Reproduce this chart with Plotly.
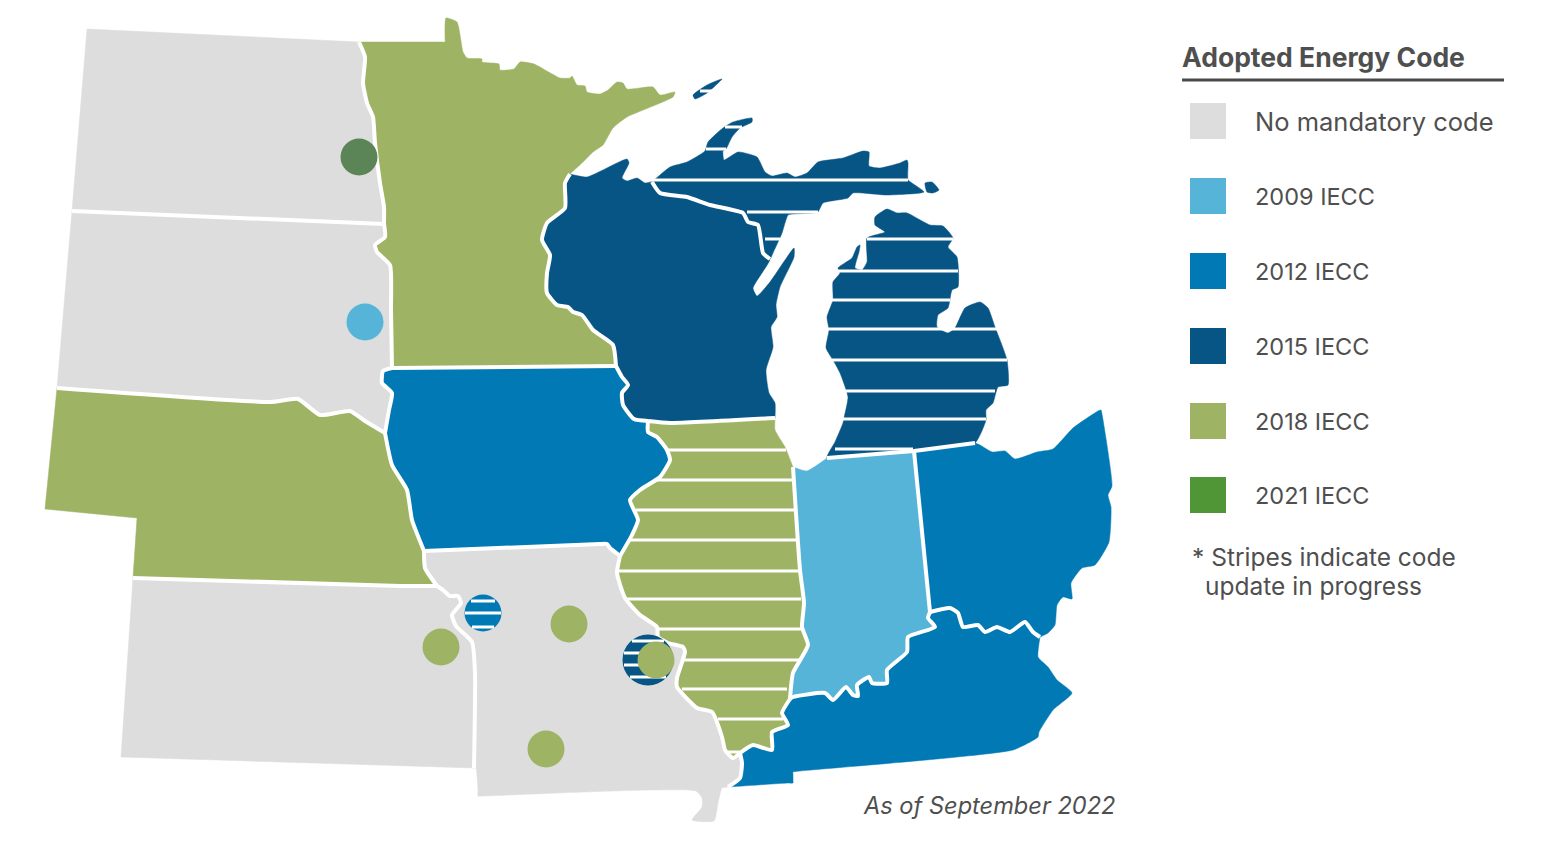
import plotly.graph_objects as go

# shared state borders (pixel coordinates of the map image)
nd_sd = [(72,211),(384,224)]
nd_mn = [(359,42),(365,57),(363,83),(367,103),(373,117),(375,143),(380,183),(384,207),(384,224)]
sd_mn = [(384,224),(385,237),(375,245),(377,252),(390,265),(391,310),(392,368)]
mn_ia = [(392,368),(616,366)]
sd_ia = [(392,368),(383,371),(382,383),(392,393),(389,410),(385,433)]
sd_ne = [(57,388),(270,402),(298,399),(320,415),(350,411),(365,421),(385,433)]
ne_ia = [(385,433),(392,465),(407,490),(412,520),(424,551)]
ne_mo = [(424,551),(425,568),(437,586)]
ne_ks = [(133,578),(400,586),(437,586)]
ks_mo = [(437,586),(443,590),(450,596),(458,596),(461,603),(452,615),(456,626),(472,642),(475,673),(474,768)]
mn_wi = [(570,174),(565,183),(565,208),(547,223),(542,240),(550,255),(547,273),(547,293),(557,305),(568,307),(573,312),(582,315),(593,330),(613,345),(616,366)]
ia_wi = [(616,366),(622,377),(628,385),(622,393),(623,405),(634,419),(648,421)]
ia_il = [(648,421),(648,432),(657,437),(667,450),(670,460),(660,477),(640,490),(630,500),(638,520),(632,535),(620,556)]
ia_mo = [(424,551),(600,544),(607,544),(610,548),(620,556)]
mo_il = [(620,556),(617,573),(625,598),(640,615),(657,627),(658,637),(668,643),(683,647),(685,652),(677,678),(677,687),(697,708),(712,712),(722,737),(725,750),(733,758),(740,753)]
wi_il = [(648,421),(670,423),(775,418)]
wi_up = [(652,182),(660,193),(687,197),(710,205),(743,213),(748,222),(758,225),(763,253),(770,259)]
il_in = [(793,467),(800,570),(804,603),(802,627),(808,645),(793,673),(790,699)]
il_ky = [(740,753),(753,745),(772,750),(772,732),(788,725),(782,713),(790,699)]
in_ky = [(790,699),(793,697),(825,693),(833,700),(846,687),(853,695),(858,696),(857,685),(869,677),(872,683),(887,683),(887,670),(907,652),(908,637),(935,627),(928,618),(930,612)]
in_oh = [(914,451),(930,612)]
mi_in = [(827,458),(914,451)]
mi_oh = [(914,451),(975,443)]
oh_ky = [(930,612),(950,608),(958,613),(963,627),(978,625),(985,632),(997,627),(1010,632),(1025,622),(1033,632),(1040,637)]
mo_ky = [(740,753),(742,763),(740,778),(728,787)]

# outer coasts and state lines
mn_outer = [(441,42),(445,42),(445,38),(446,18),(457,22),(463,52),(467,58),(482,59),(482,62),(499,64),(500,70),(514,69),(520,62),(534,64),(560,78),(570,78),(572,76),(577,85),(585,86),(587,92),(600,94),(608,90),(617,82),(623,83),(627,89),(653,87),(660,95),(675,92),(673,97),(627,117),(613,128),(603,145),(593,152),(583,162),(570,174)]
wi_coast = [(587,177),(627,159),(629,163),(622,178),(627,181),(637,178),(645,183)]
wi_door = [(753,288),(757,296),(770,282),(794,248),(794,257),(780,287),(776,305),(777,317),(771,327),(773,347),(766,370),(769,393),(775,403),(775,418)]
up_coast = [(670,167),(687,162),(705,151),(708,142),(723,128),(733,122),(752,118),(752,122),(740,128),(732,137),(726,149),(723,151),(724,160),(738,152),(757,157),(765,172),(772,176),(787,173),(795,177),(807,173),(818,162),(843,158),(863,151),(869,152),(869,166),(880,168),(900,163),(907,160),(908,163),(908,180),(912,183),(924,192),(887,195),(853,193),(848,198),(823,203),(818,212),(813,213),(793,214),(788,215),(782,233),(773,253)]
lower_mi_coast = [(975,443),(986,420),(986,410),(993,403),(998,387),(1008,385),(1007,360),(995,327),(988,308),(980,302),(965,308),(955,328),(948,333),(937,327),(938,315),(948,308),(952,290),(958,287),(957,257),(948,247),(953,238),(943,226),(930,225),(907,213),(897,213),(887,209),(875,217),(875,225),(885,232),(867,238),(867,262),(862,270),(855,268),(859,252),(860,245),(857,247),(852,258),(838,268),(840,273),(833,282),(833,300),(827,317),(829,330),(826,348),(833,360),(840,373),(848,397),(844,418),(843,423),(835,442)]
il_coast = [(775,418),(775,430),(785,447),(793,467)]
in_top = [(793,467),(807,471),(827,458)]
oh_outer = [(980,445),(992,452),(1005,451),(1015,459),(1037,452),(1053,449),(1073,428),(1098,411),(1101,410),(1102,414),(1112,486),(1108,495),(1111,507),(1109,542),(1095,565),(1082,568),(1071,583),(1072,599),(1063,597),(1057,605),(1055,625),(1048,633),(1040,637)]
ky_outer = [(1040,637),(1038,657),(1048,667),(1057,680),(1072,693),(1053,710),(1039,732),(1038,737),(1013,750),(800,771),(793,772),(793,775),(793,780),(793,783),(788,783),(728,787)]
mo_outer = [(728,787),(722,788),(718,803),(714,821),(692,820),(702,807),(702,798),(696,791),(484,796),(478,796),(478,790),(476,768)]

isle_royale = [(722,79),(707,85),(693,95),(695,99),(707,93)]
drummond = [(925,183),(932,182),(939,190),(933,193),(927,192)]

north_dakota = [(87,29)] + nd_mn + nd_sd[::-1]
south_dakota = nd_sd + sd_mn + sd_ia[1:] + sd_ne[::-1]
nebraska = sd_ne + ne_ia + ne_mo + ne_ks[::-1] + [(137,518),(45,509)]
kansas = ne_ks + ks_mo + [(121,757)]
minnesota = nd_mn[:1] + mn_outer + mn_wi + mn_ia[::-1] + sd_mn[::-1] + nd_mn[::-1]
iowa = mn_ia + ia_wi + ia_il + ia_mo[::-1] + ne_ia[::-1] + sd_ia[::-1][:-1]
missouri = ia_mo + mo_il + mo_ky + mo_outer + ks_mo[::-1] + ne_mo[::-1]
wisconsin = mn_wi[:1] + wi_coast + wi_up + wi_door + wi_il[::-1] + ia_wi[::-1] + mn_wi[::-1]
upper_michigan = wi_up[:1] + up_coast + wi_up[::-1]
lower_michigan = mi_oh[::-1] + lower_mi_coast + mi_in[:1]
illinois = wi_il + il_coast + il_in + il_ky[::-1] + mo_il[::-1] + ia_il[::-1]
indiana = il_in[::-1] + in_top + mi_in + in_oh + in_ky[::-1]
ohio = in_oh[:1] + mi_oh[1:] + oh_outer + oh_ky[::-1] + in_oh[::-1]
kentucky = oh_ky + ky_outer + mo_ky[::-1] + il_ky + in_ky

borders = [nd_sd, nd_mn, sd_mn, mn_ia, sd_ia, sd_ne, ne_ia, ne_mo, ne_ks, ks_mo, mn_wi, ia_wi, ia_il, ia_mo, mo_il,
           wi_il, wi_up, il_in, il_ky, in_ky, in_oh, mi_in, mi_oh, oh_ky, mo_ky]

# code colours
code_names = ["No mandatory code", "2009 IECC", "2012 IECC", "2015 IECC", "2018 IECC", "2021 IECC"]
code_colors = ["#dddddd", "#56b4d9", "#0179b5", "#075585", "#9fb364", "#519636"]
legend_y = [121, 196, 271, 346, 421, 495]
legend_sizes = [25.5, 23.5, 23.5, 23.5, 23.5, 23.5]

# outline, colour, wavy edges get a spline
states = [
    (north_dakota, "#dddddd", False), (south_dakota, "#dddddd", False), (kansas, "#dddddd", False), (missouri, "#dddddd", True),
    (nebraska, "#9fb364", False), (minnesota, "#9fb364", True), (illinois, "#9fb364", True),
    (iowa, "#0179b5", True), (ohio, "#0179b5", True), (kentucky, "#0179b5", True),
    (wisconsin, "#075585", True), (upper_michigan, "#075585", True), (lower_michigan, "#075585", True),
    (isle_royale, "#075585", True), (drummond, "#075585", True),
    (indiana, "#56b4d9", True),
]

# stripes: y, x start, x end
michigan_stripes = [(91,700,715),(127,725,742),(149,706,726),(180,652,908),(212,747,818),(239,765,780),(239,867,953),(271,838,958),(300,832,950),(329,828,997),(360,832,1007),(391,845,995),(419,843,986),(449,835,913)]
illinois_stripes = [(450,668,786),(480,655,794),(510,636,796),(540,628,798),(571,617,800),(599,625,801),(629,658,802),(660,683,799),(689,682,787),(719,718,783),(752,727,740)]

# city circles: x, y, colour, diameter
plain_cities = [(359,157,"#5b8557",37),(365,322,"#56b4d9",37),(441,647,"#9fb364",37),(569,624,"#9fb364",37),(546,749,"#9fb364",37)]
striped_cities = [(483,613,"#0179b5",37),(648,660,"#075585",51)]
city_stripes = [(601,471,495),(613,465,501),(627,472,494),(641,632,664),(653,624,672),(665,624,672),(677,630,666)]
top_city = [(656,660,"#9fb364",37)]

fig = go.Figure()

for outline, color, wavy in states:
    fig.add_trace(go.Scatter(
        x=[p[0] for p in outline] + [outline[0][0]],
        y=[p[1] for p in outline] + [outline[0][1]],
        mode="lines", fill="toself", fillcolor=color,
        line=dict(color=color, width=0.5, shape="spline" if wavy else "linear", smoothing=0.5),
        hoverinfo="skip", showlegend=False,
    ))

for chain in borders:
    fig.add_trace(go.Scatter(
        x=[p[0] for p in chain], y=[p[1] for p in chain], mode="lines",
        line=dict(color="white", width=4, shape="spline", smoothing=0.5),
        hoverinfo="skip", showlegend=False,
    ))

def add_stripes(rows, width):
    xs, ys = [], []
    for y, x0, x1 in rows:
        xs += [x0, x1, None]
        ys += [y, y, None]
    fig.add_trace(go.Scatter(x=xs, y=ys, mode="lines", line=dict(color="white", width=width),
                             hoverinfo="skip", showlegend=False))

def add_circles(rows):
    fig.add_trace(go.Scatter(
        x=[r[0] for r in rows], y=[r[1] for r in rows], mode="markers",
        marker=dict(color=[r[2] for r in rows], size=[r[3] for r in rows], opacity=1, line=dict(width=0)),
        hoverinfo="skip", showlegend=False,
    ))

add_stripes(michigan_stripes + illinois_stripes, 3)
add_circles(plain_cities)
add_circles(striped_cities)
add_stripes(city_stripes, 3)
add_circles(top_city)

# legend
fig.add_trace(go.Scatter(
    x=[1208] * len(legend_y), y=legend_y, mode="markers",
    marker=dict(symbol="square", size=36, color=code_colors, opacity=1, line=dict(width=0)),
    hoverinfo="skip", showlegend=False,
))
fig.add_trace(go.Scatter(x=[1182, 1504], y=[80, 80], mode="lines", line=dict(color="#4a4a4a", width=3),
                         hoverinfo="skip", showlegend=False))

font = "Inter"
text_color = "#4f4f4f"

def label(x, y, text, size):
    fig.add_annotation(x=x - 3, y=y, text=text, showarrow=False, xanchor="left", yanchor="middle",
                       font=dict(family=font, size=size, color=text_color))

label(1183, 57, "<b>Adopted Energy Code</b>", 26.5)
for name, y, size in zip(code_names, legend_y, legend_sizes):
    label(1256, y, name, size)
label(1193, 557, "* Stripes indicate code", 24.5)
label(1206, 586, "update in progress", 24.5)
label(864, 805, "<i>As of September 2022</i>", 23.6)

fig.update_xaxes(range=[0, 1554], visible=False, fixedrange=True)
fig.update_yaxes(range=[866, 0], visible=False, fixedrange=True)
fig.update_layout(width=1554, height=866, margin=dict(l=0, r=0, t=0, b=0),
                  paper_bgcolor="white", plot_bgcolor="white")

fig.write_html("out.html", config={"displayModeBar": False},
               post_script="document.body.style.margin='0';document.body.style.overflow='hidden';")
